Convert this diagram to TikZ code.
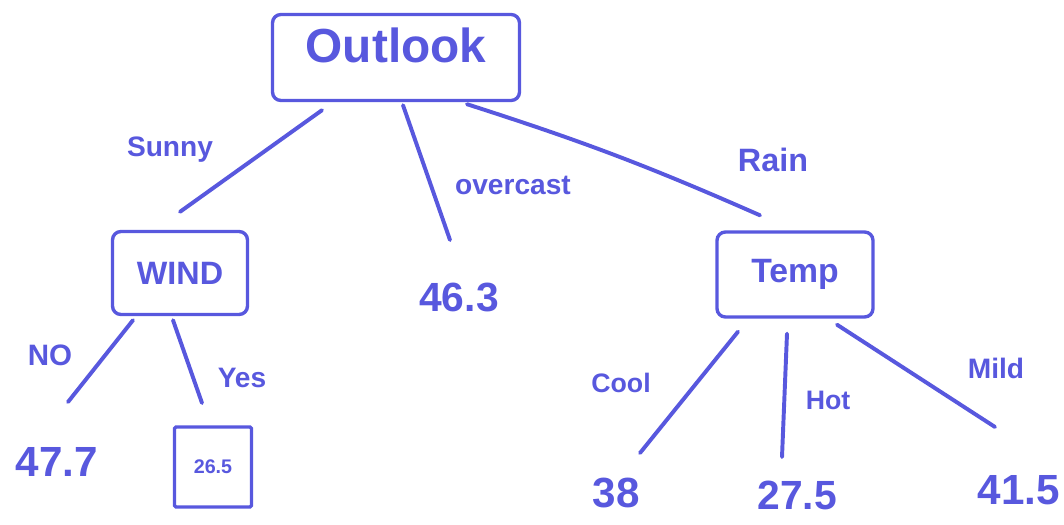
\documentclass[tikz,border=0pt]{standalone}
\usepackage{fontspec}
\setmainfont{Liberation Sans}
\usetikzlibrary{calc}
\definecolor{pen}{RGB}{88,88,222}
\tikzset{
  fs/.style={font=\fontsize{#1}{#1}\selectfont\bfseries},
  box/.style={draw=pen, line width=2.4pt, rounded corners=6pt, text=pen, inner sep=0pt},
  lbl/.style={text=pen, inner sep=0pt},
  edge/.style={draw=pen, line width=2.8pt, line cap=round},
}
\begin{document}
\begin{tikzpicture}[x=0.025cm, y=-0.025cm]
\useasboundingbox (0,0) rectangle (1064,525);

% decision nodes
\node[box, fs=34, minimum width=247*0.025cm, text height=1.2cm, text depth=0.95cm] (outlook) at (396,57.5) {Outlook};
\node[box, fs=23, minimum width=135*0.025cm, minimum height=83*0.025cm] (wind) at (180,273) {WIND};
\node[box, fs=24, minimum width=156*0.025cm, minimum height=85*0.025cm] (temp) at (795,274.5) {Temp};

% leaf values
\node[lbl, fs=29] (v463) at (459,297) {46.3};
\node[lbl, fs=30] (v477) at (57,462) {47.7};
\node[box, fs=14, rounded corners=1pt, minimum width=77*0.025cm, minimum height=80*0.025cm] (v265) at (213,467) {26.5};
\node[lbl, fs=30] (v38) at (616,493) {38};
\node[lbl, fs=29] (v275) at (797,495) {27.5};
\node[lbl, fs=30] (v415) at (1019,490) {41.5};

% branch labels
\node[lbl, fs=20] (lsunny) at (170,150) {Sunny};
\node[lbl, fs=20] (lover) at (513,185) {overcast};
\node[lbl, fs=23] (lrain) at (773,160) {Rain};
\node[lbl, fs=21] (lno) at (50,355) {NO};
\node[lbl, fs=20] (lyes) at (242,378) {Yes};
\node[lbl, fs=19] (lcool) at (621,383) {Cool};
\node[lbl, fs=19] (lhot) at (828,400) {Hot};
\node[lbl, fs=20] (lmild) at (996,368) {Mild};

% branches
\draw[edge] ($(outlook.south)+(-74,8)$) -- ($(wind.north)+(0,-18)$);
\draw[edge] ($(outlook.south)+(7,3)$) -- ($(v463.center)+(-9,-57)$);
\draw[edge] ($(outlook.south)+(71,2)$) to[bend left=3] ($(temp.north)+(-35,-15)$);
\draw[edge] ($(wind.south)+(-47,4)$) -- ($(v477.center)+(11,-60)$);
\draw[edge] ($(wind.south)+(-7,4)$) -- ($(v265.center)+(-11,-64)$);
\draw[edge] ($(temp.south)+(-57,13)$) -- ($(v38.center)+(24,-40)$);
\draw[edge] ($(temp.south)+(-8,15)$) -- ($(v275.center)+(-15,-38)$);
\draw[edge] ($(temp.south)+(42,6)$) -- ($(v415.center)+(-24,-63)$);
\end{tikzpicture}
\end{document}
